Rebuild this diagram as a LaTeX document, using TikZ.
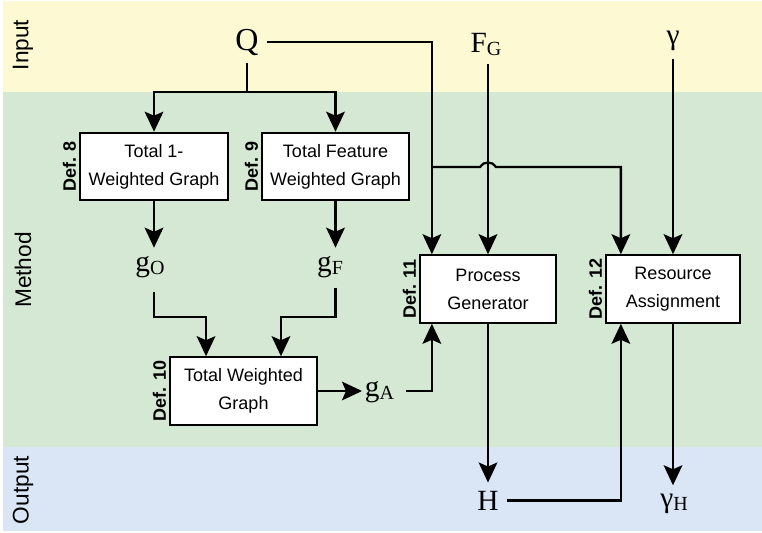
\documentclass[tikz,border=0pt]{standalone}
\usepackage{fontspec}
\setmainfont{Liberation Serif}
\setsansfont{Liberation Sans}
\usetikzlibrary{arrows.meta,calc}
\definecolor{inYel}{HTML}{FCF9D3}
\definecolor{meGrn}{HTML}{D5E8D4}
\definecolor{ouBlu}{HTML}{DAE6F6}
\newcommand\sbs[1]{\raisebox{-2.5pt}{\fontsize{15}{15}\selectfont #1}}
\begin{document}
\begin{tikzpicture}[x=0.75pt,y=-0.75pt,
 arr/.style={line width=1.7pt,-{Stealth[length=15pt,width=14pt,inset=3pt]}},
 ln/.style={line width=1.7pt},
 box/.style={draw,line width=1.7pt,fill=white,inner sep=0pt,align=center,font=\sffamily\fontsize{13.5}{21}\selectfont,minimum height=50.5pt},
 deflab/.style={rotate=90,anchor=south,inner sep=2pt,font=\sffamily\bfseries\fontsize{13.5}{13.5}\selectfont},
 band/.style={rotate=90,font=\sffamily\fontsize{17}{17}\selectfont},
 sym/.style={inner sep=6pt,anchor=base,font=\fontsize{22}{22}\selectfont}]
\fill[white] (0,0) rectangle (762,532);
\useasboundingbox (0,0) rectangle (762,532);
\fill[inYel] (3,1) rectangle (762,92);
\fill[meGrn] (3,92) rectangle (762,447);
\fill[ouBlu] (3,447) rectangle (762,531);

\node[band] (lin) at (23,45) {Input};
\node[band] (lme) at (23,270) {Method};
\node[band] (lou) at (23,490) {Output};

\node[box,minimum width=111pt] (b1) at (154,166.5) {Total 1-\\Weighted Graph};
\node[box,minimum width=110pt] (b2) at (335.5,166.5) {Total Feature\\Weighted Graph};
\node[box,minimum width=110pt] (b3) at (243.5,391) {Total Weighted\\Graph};
\node[box,minimum width=102pt] (pg) at (488,289) {Process\\Generator};
\node[box,minimum width=100.5pt] (ra) at (673,289) {Resource\\Assignment};

\node[deflab] (d8) at (b1.west) {Def. 8};
\node[deflab] (d9) at (b2.west) {Def. 9};
\node[deflab] (d10) at (b3.west) {Def. 10};
\node[deflab] (d11) at (pg.west) {Def. 11};
\node[deflab] (d12) at (ra.west) {Def. 12};

\node[sym,font=\fontsize{24}{24}\selectfont] (Q) at (247,50) {Q};
\node[sym] (FG) at (486,52) {F\sbs{G}};
\node[sym] (gam) at (673,44) {γ};
\node[sym] (gO) at (150,271) {g\sbs{O}};
\node[sym] (gF) at (330,271) {g\sbs{F}};
\node[sym,anchor=base west,inner xsep=2pt] (gA) at (362,396) {g\sbs{A}};
\node[sym] (H) at (488,510) {H};
\node[sym] (gH) at (674,507) {γ\sbs{H}};

\coordinate (ysplit) at (0,92);
\coordinate (yb) at (0,167);
\coordinate (yj) at (0,317);
\path (pg.north west) ++(13,0) coordinate (pgQ);
\path (pg.south west) ++(13,0) coordinate (pgA);
\path (ra.north west) ++(16,0) coordinate (raQ);
\path (ra.south west) ++(16,0) coordinate (raH);
\path (b3.north west) ++(37,0) coordinate (b3L);
\path (b3.north east) ++(-37,0) coordinate (b3R);
\coordinate (hl) at ($(pg.north |- yb)+(-8,0)$);
\coordinate (hr) at ($(pg.north |- yb)+(8,0)$);

% Q
\draw[ln] (Q.south) -- (Q.south |- ysplit) coordinate (qs);
\draw[arr] (qs) -| (b1.north);
\draw[arr] (qs) -| (b2.north);
\draw[arr] (Q.east) -- (Q.east -| pgQ) -- (pgQ);
\draw[arr] (pgQ |- yb) -- (hl) .. controls ($(hl)+(3,-6)$) and ($(hr)+(-3,-6)$) .. (hr) -| (raQ);
% inputs
\draw[arr] (pg.north |- FG.south) -- (pg.north);
\draw[arr] (ra.north |- gam.south) -- (ra.north);
% graphs
\draw[arr] (b1.south) -- (b1.south |- gO.north);
\draw[arr] (b2.south) -- (b2.south |- gF.north);
\draw[arr] ($(b1.south |- gO.south)+(0,6)$) -- (b1.south |- yj) -| (b3L);
\draw[arr] ($(b2.south |- gF.south)+(0,2)$) -- (b2.south |- yj) -| (b3R);
\draw[arr] (b3.east) -- (b3.east -| gA.west);
\draw[arr] ($(gA.east |- b3.east)+(9,0)$) -| (pgA);
% outputs
\draw[arr] (pg.south) -- (pg.south |- H.north);
\draw[arr] (H.east) -| (raH);
\draw[arr] (ra.south) -- (ra.south |- gH.north);
\end{tikzpicture}
\end{document}
